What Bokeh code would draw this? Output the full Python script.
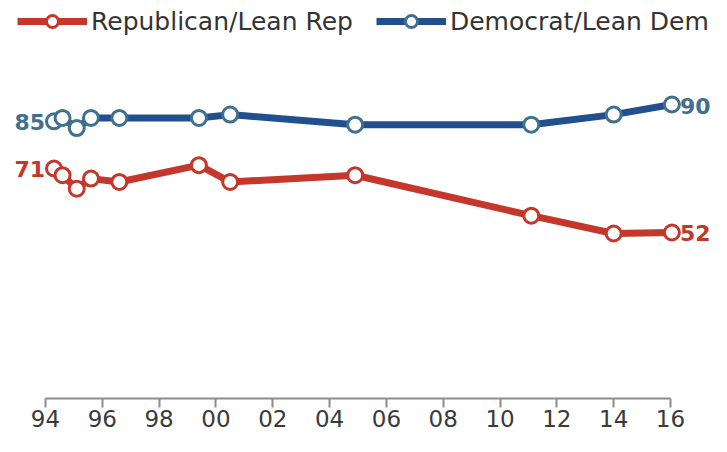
from bokeh.plotting import figure
from bokeh.models import ColumnDataSource, FixedTicker, Range1d, Legend, LegendItem
from bokeh.embed import file_html
from bokeh.resources import INLINE
from bokeh.core.properties import value

# ---- data ----
years = [1994.3, 1994.6, 1995.1, 1995.6, 1996.6, 1999.4, 2000.5, 2004.9, 2011.1, 2014.0, 2016.05]
rep = [71, 69, 65, 68, 67, 72, 67, 69, 57, 51.7, 52]
dem = [85, 86, 83, 86, 86, 86, 87, 84, 84, 87, 90]
tick_years = [1994, 1996, 1998, 2000, 2002, 2004, 2006, 2008, 2010, 2012, 2014, 2016]
tick_labels = ["94", "96", "98", "00", "02", "04", "06", "08", "10", "12", "14", "16"]
series_names = ["Republican/Lean Rep", "Democrat/Lean Dem"]

RED = "#c4372a"
BLUE_LINE = "#22508e"
BLUE_MARK = "#41708f"
FONT = "DejaVu Sans"

p = figure(width=711, height=436,
           x_range=Range1d(1992.416, 2017.444),
           y_range=Range1d(2.71, 120.88),
           output_backend="svg", toolbar_location=None,
           y_axis_location=None,
           min_border_left=0, min_border_right=0,
           min_border_top=0, min_border_bottom=38)
p.outline_line_color = None
p.grid.visible = False
p.background_fill_color = "white"

ax = p.xaxis[0]
ax.ticker = FixedTicker(ticks=tick_years)
ax.major_label_overrides = dict(zip(tick_years, tick_labels))
ax.bounds = (tick_years[0], tick_years[-1])
ax.axis_line_color = "#8c8c8c"
ax.axis_line_width = 2
ax.major_tick_line_color = "#8c8c8c"
ax.major_tick_line_width = 2
ax.major_tick_out = 9
ax.major_tick_in = 0
ax.minor_tick_line_color = None
ax.major_label_standoff = 2
ax.major_label_text_font = FONT
ax.major_label_text_font_size = "23px"
ax.major_label_text_color = "#3a3a3a"

src = ColumnDataSource(dict(x=years, rep=rep, dem=dem))

rl = p.line("x", "rep", source=src, line_color=RED, line_width=7, line_join="round")
dl = p.line("x", "dem", source=src, line_color=BLUE_LINE, line_width=7, line_join="round")
rs = p.scatter("x", "rep", source=src, size=15, fill_color="white", line_color=RED, line_width=3)
ds = p.scatter("x", "dem", source=src, size=15, fill_color="white", line_color=BLUE_MARK, line_width=3)

# end labels
left = ColumnDataSource(dict(x=[years[0], years[0]], y=[dem[0], rep[0]],
                             t=[f"{dem[0]:.0f}", f"{rep[0]:.0f}"], c=[BLUE_MARK, RED]))
right = ColumnDataSource(dict(x=[years[-1], years[-1]], y=[dem[-1], rep[-1]],
                              t=[f"{dem[-1]:.0f}", f"{rep[-1]:.0f}"], c=[BLUE_MARK, RED]))
p.text("x", "y", text="t", source=left, text_color="c", text_align="right",
       text_baseline="middle", x_offset=-9, y_offset=1,
       text_font=value(FONT), text_font_style="bold", text_font_size="22px")
p.text("x", "y", text="t", source=right, text_color="c", text_align="left",
       text_baseline="middle", x_offset=8, y_offset=1,
       text_font=value(FONT), text_font_style="bold", text_font_size="22px")

legend = Legend(items=[LegendItem(label=series_names[0], renderers=[rl, rs]),
                       LegendItem(label=series_names[1], renderers=[dl, ds])],
                location=(17, 362), orientation="horizontal",
                glyph_width=70, glyph_height=30, label_standoff=4, spacing=23,
                padding=0, margin=0, border_line_color=None, background_fill_alpha=0,
                label_text_font=FONT, label_text_font_size="25px",
                label_text_color="#333333")
p.add_layout(legend)

open("out.html", "w").write(file_html(p, INLINE))
